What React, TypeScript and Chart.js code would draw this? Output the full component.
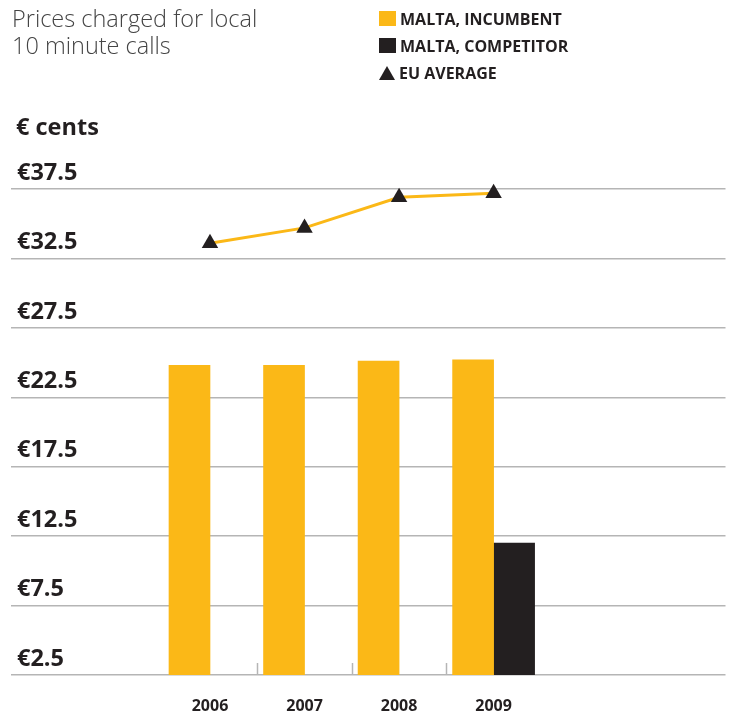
import React, { useEffect, useRef } from 'react';
import { Chart, registerables } from 'chart.js';

Chart.register(...registerables);

const years = [2006, 2007, 2008, 2009];
const incumbent = [24.8, 24.8, 25.1, 25.2];
const competitor: (number | null)[] = [null, null, null, 12.0];
const euAverage = [33.6, 34.7, 36.9, 37.2];
const yTicks = [2.5, 7.5, 12.5, 17.5, 22.5, 27.5, 32.5, 37.5];
const seriesNames = ['MALTA, INCUMBENT', 'MALTA, COMPETITOR', 'EU AVERAGE'];
const titleLines = ['Prices charged for local', '10 minute calls'];
const unitLabel = '€ cents';

const YELLOW = '#FBB817';
const BLACK = '#231F20';
const GRID = '#B5B5B5';
const FONT = '"Open Sans", "Noto Sans", sans-serif';

const midTicks = {
  id: 'midTicks',
  beforeDatasetsDraw(chart: any) {
    const xs = chart.scales.x;
    const area = chart.chartArea;
    const ctx = chart.ctx;
    ctx.save();
    ctx.strokeStyle = GRID;
    ctx.lineWidth = 1.5;
    for (let i = 0; i < years.length - 1; i++) {
      const px = Math.round(xs.getPixelForValue((years[i] + years[i + 1]) / 2)) + 0.5;
      ctx.beginPath();
      ctx.moveTo(px, area.bottom);
      ctx.lineTo(px, area.bottom - 12);
      ctx.stroke();
    }
    ctx.restore();
  },
};

export default function App() {
  const ref = useRef<HTMLCanvasElement | null>(null);

  useEffect(() => {
    if (!ref.current) return;
    const chart = new Chart(ref.current, {
      type: 'bar',
      data: {
        datasets: [
          {
            type: 'line',
            label: seriesNames[2],
            data: years.map((x, i) => ({ x, y: euAverage[i] })),
            borderColor: YELLOW,
            borderWidth: 3,
            pointStyle: 'triangle',
            pointRadius: 9.5,
            pointBackgroundColor: BLACK,
            pointBorderColor: BLACK,
            pointBorderWidth: 0,
            clip: false,
            order: 0,
          } as any,
          {
            type: 'bar',
            label: seriesNames[0],
            data: years.map((x, i) => ({ x, y: incumbent[i] })),
            backgroundColor: YELLOW,
            barThickness: 41,
            order: 1,
          },
          {
            type: 'bar',
            label: seriesNames[1],
            data: years.map((x, i) => ({ x, y: competitor[i] })),
            backgroundColor: BLACK,
            barThickness: 41,
            order: 1,
          },
        ],
      },
      options: {
        animation: false,
        responsive: false,
        layout: { padding: { left: 11, right: 6, top: 189, bottom: 0 } },
        plugins: { legend: { display: false }, tooltip: { enabled: false } },
        scales: {
          x: {
            type: 'linear',
            min: 2003.895,
            max: 2011.453,
            offset: false,
            grid: { display: false, offset: false },
            border: { display: false },
            afterBuildTicks: (s: any) => {
              s.ticks = years.map((v) => ({ value: v }));
            },
            afterFit: (s: any) => {
              s.height = 36;
            },
            ticks: {
              padding: 14,
              autoSkip: false,
              maxRotation: 0,
              color: BLACK,
              font: { family: FONT, size: 16, weight: 'bold' },
              callback: (v: any) => String(v),
            },
          },
          y: {
            type: 'linear',
            min: 2.5,
            max: 37.5,
            afterBuildTicks: (s: any) => {
              s.ticks = yTicks.map((v) => ({ value: v }));
            },
            afterFit: (s: any) => {
              s.width = 0;
            },
            grid: { color: GRID, lineWidth: 1.5, drawTicks: false },
            border: { display: false },
            ticks: {
              mirror: true,
              padding: 6,
              labelOffset: -16,
              autoSkip: false,
              color: BLACK,
              font: { family: FONT, size: 23.5, weight: 'bold' },
              callback: (v: any) => '€' + Number(v).toFixed(1),
            },
          },
        },
      },
      plugins: [midTicks],
    });
    return () => chart.destroy();
  }, []);

  const legendItem = (i: number) => {
    const marker =
      i === 2 ? (
        <div
          style={{
            width: 0,
            height: 0,
            borderLeft: '8px solid transparent',
            borderRight: '8px solid transparent',
            borderBottom: '14px solid ' + BLACK,
            marginRight: 4,
          }}
        />
      ) : (
        <div
          style={{
            width: 17,
            height: 15,
            background: i === 0 ? YELLOW : BLACK,
            marginRight: 4,
          }}
        />
      );
    return (
      <div key={i} style={{ display: 'flex', alignItems: 'center', height: 27 }}>
        {marker}
        <span style={{ fontFamily: FONT, fontWeight: 700, fontSize: 16, color: BLACK }}>
          {seriesNames[i]}
        </span>
      </div>
    );
  };

  return (
    <div style={{ position: 'absolute', left: 0, top: 0, width: 735, height: 711, background: '#fff' }}>
      <canvas ref={ref} width={735} height={711} style={{ position: 'absolute', left: 0, top: 0 }} />
      <div
        style={{
          position: 'absolute',
          left: 12,
          top: 5,
          fontFamily: FONT,
          fontWeight: 300,
          fontSize: 23.5,
          lineHeight: '27px',
          color: '#444',
        }}
      >
        {titleLines.map((t, i) => (
          <div key={i}>{t}</div>
        ))}
      </div>
      <div style={{ position: 'absolute', left: 379, top: 5 }}>{[0, 1, 2].map(legendItem)}</div>
      <div
        style={{
          position: 'absolute',
          left: 16,
          top: 110,
          fontFamily: FONT,
          fontWeight: 700,
          fontSize: 23.5,
          lineHeight: '32px',
          color: BLACK,
        }}
      >
        {unitLabel}
      </div>
    </div>
  );
}
